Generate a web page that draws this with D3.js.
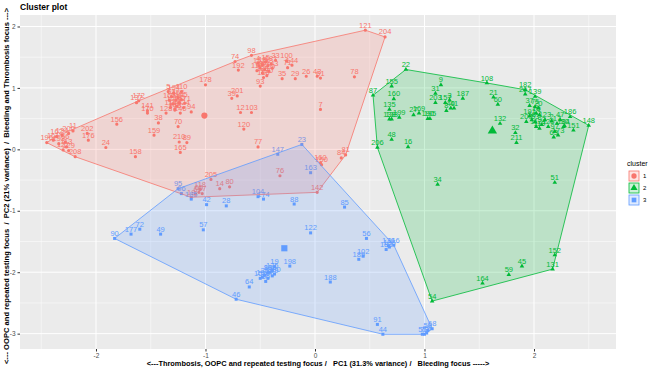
<!DOCTYPE html>
<html>
<head>
<meta charset="utf-8">
<script src="https://cdn.jsdelivr.net/npm/d3@7"></script>
<style>
  body { margin: 0; background: #fff; }
  text { font-family: "Liberation Sans", Arial, sans-serif; }
</style>
</head>
<body>
<div id="chart"></div>
<script>
// Observations per cluster: [label, PC1, PC2]
const cluster1 = [
  ["121", 0.46, 1.94], ["204", 0.64, 1.83], ["98", -0.58, 1.53], ["74", -0.73, 1.43],
  ["192", -0.70, 1.29], ["33", -0.36, 1.45], ["100", -0.26, 1.44], ["144", -0.21, 1.37],
  ["71", -0.25, 1.33], ["35", -0.30, 1.15], ["29", -0.18, 1.15], ["26", -0.08, 1.19],
  ["43", 0.02, 1.19], ["61", 0.05, 1.16], ["93", -0.50, 1.03],
  ["4", -0.52, 1.40], ["13", -0.48, 1.38], ["15", -0.45, 1.42], ["52", -0.43, 1.36],
  ["181", -0.40, 1.39], ["86", -0.50, 1.32], ["99", -0.46, 1.30], ["109", -0.42, 1.27],
  ["117", -0.53, 1.28], ["126", -0.48, 1.24], ["130", -0.44, 1.20], ["143", -0.39, 1.32],
  ["153", -0.51, 1.36], ["166", -0.47, 1.17],
  ["178", -1.00, 1.05], ["39", -0.76, 0.83], ["201", -0.71, 0.87], ["12", -0.68, 0.60],
  ["103", -0.58, 0.60], ["120", -0.65, 0.33], ["77", -0.52, 0.04], ["7", 0.05, 0.65],
  ["78", 0.36, 1.18], ["84", 0.24, -0.14], ["81", 0.28, -0.09], ["160", 0.05, -0.22],
  ["150", 0.06, -0.25], ["142", 0.02, -0.70], ["76", -0.32, -0.43], ["205", -0.95, -0.49],
  ["14", -0.87, -0.64], ["80", -0.78, -0.61], ["18", -1.13, -0.78], ["6", -1.09, -0.73],
  ["65", -1.06, -0.70], ["67", -1.03, -0.72], ["118", -1.05, -0.65],
  ["196", -2.45, 0.11], ["161", -2.39, 0.15], ["162", -2.36, 0.21], ["200", -2.25, 0.26],
  ["11", -2.21, 0.30], ["66", -2.28, 0.12], ["193", -2.34, 0.09], ["113", -2.27, 0.04],
  ["127", -2.30, -0.01], ["129", -2.25, -0.02], ["134", -2.31, 0.23], ["208", -2.19, -0.12],
  ["202", -2.08, 0.26], ["176", -2.07, 0.15], ["24", -1.91, 0.03], ["156", -1.81, 0.41],
  ["158", -1.64, -0.12], ["172", -1.61, 0.79], ["137", -1.63, 0.76], ["141", -1.53, 0.63],
  ["170", -1.53, 0.59], ["38", -1.43, 0.43], ["159", -1.47, 0.23], ["70", -1.25, 0.37],
  ["210", -1.24, 0.12], ["89", -1.17, 0.11], ["165", -1.23, -0.05], ["128", -1.36, 0.59],
  ["5", -1.34, 0.94], ["194", -1.29, 0.92], ["110", -1.22, 0.94], ["145", -1.22, 0.81],
  ["171", -1.19, 0.75], ["94", -1.13, 0.61], ["140", -1.23, 0.59], ["146", -1.28, 0.64],
  ["62", -1.31, 0.86], ["101", -1.27, 0.80], ["107", -1.30, 0.74], ["111", -1.26, 0.70],
  ["114", -1.32, 0.68], ["115", -1.24, 0.76], ["124", -1.20, 0.68], ["149", -1.28, 0.66],
  ["154", -1.25, 0.84], ["167", -1.33, 0.80]
];

const cluster2 = [
  ["22", 0.83, 1.30], ["87", 0.53, 0.88], ["155", 0.70, 1.03], ["160", 0.72, 0.82],
  ["135", 0.68, 0.65], ["138", 0.68, 0.49], ["133", 0.70, 0.49], ["199", 0.77, 0.52],
  ["27", 0.90, 0.56], ["169", 0.95, 0.59], ["190", 1.03, 0.50], ["195", 1.05, 0.50],
  ["48", 0.70, 0.16], ["16", 0.85, 0.04], ["206", 0.57, 0.03], ["31", 1.10, 0.91],
  ["9", 1.15, 1.05], ["203", 1.10, 0.76], ["157", 1.19, 0.76], ["3", 1.23, 0.80],
  ["8", 1.20, 0.63], ["41", 1.27, 0.67], ["40", 1.24, 0.67], ["187", 1.35, 0.83],
  ["108", 1.57, 1.08], ["21", 1.63, 0.85], ["60", 1.67, 0.73], ["132", 1.69, 0.42],
  ["32", 1.83, 0.27], ["211", 1.84, 0.11], ["182", 1.92, 0.97], ["207", 1.92, 0.90],
  ["139", 2.01, 0.86], ["37", 1.96, 0.71], ["75", 2.01, 0.69],
  ["209", 1.93, 0.45], ["191", 1.96, 0.54], ["58", 1.98, 0.48], ["53", 2.01, 0.45],
  ["112", 2.02, 0.37], ["119", 2.05, 0.34], ["92", 2.07, 0.40], ["123", 2.10, 0.48],
  ["125", 2.13, 0.37], ["2", 2.16, 0.46], ["17", 2.21, 0.42], ["47", 2.24, 0.48],
  ["97", 2.19, 0.29], ["63", 2.18, 0.20], ["173", 2.22, 0.23], ["184", 2.27, 0.37],
  ["30", 2.28, 0.38], ["186", 2.33, 0.53], ["151", 2.36, 0.31], ["20", 2.04, 0.67],
  ["10", 2.02, 0.59], ["1", 2.05, 0.56], ["148", 2.50, 0.39],
  ["51", 2.19, -0.54], ["34", 1.12, -0.57], ["152", 2.19, -1.72], ["131", 2.17, -1.95],
  ["45", 1.89, -1.90], ["59", 1.77, -2.04], ["164", 1.53, -2.18], ["54", 1.07, -2.47]
];

const cluster3 = [
  ["23", -0.12, 0.08], ["147", -0.34, -0.08], ["163", -0.04, -0.38], ["85", 0.27, -0.94],
  ["56", 0.47, -1.45], ["183", 0.65, -1.63], ["136", 0.67, -1.57], ["105", 0.68, -1.59],
  ["116", 0.72, -1.56], ["102", 0.44, -1.74], ["189", 0.40, -1.79], ["188", 0.14, -2.16],
  ["91", 0.57, -2.85], ["44", 0.62, -3.01], ["55", 0.98, -3.01], ["73", 1.00, -3.01],
  ["79", 1.02, -2.99], ["68", 1.07, -2.92], ["50", 1.03, -2.95],
  ["90", -1.83, -1.45], ["177", -1.68, -1.38], ["72", -1.60, -1.30], ["49", -1.41, -1.38],
  ["57", -1.02, -1.31], ["95", -1.25, -0.64], ["96", -1.22, -0.72], ["185", -1.13, -0.81],
  ["42", -0.99, -0.90], ["28", -0.81, -0.92], ["104", -0.52, -0.77], ["174", -0.47, -0.81],
  ["88", -0.19, -0.89], ["122", -0.04, -1.36], ["198", -0.23, -1.90], ["19", -0.37, -1.91],
  ["25", -0.46, -2.05], ["106", -0.43, -2.10], ["168", -0.41, -2.00], ["179", -0.39, -2.06],
  ["197", -0.48, -2.08], ["36", -0.45, -2.15], ["175", -0.39, -1.97], ["180", -0.37, -2.03],
  ["83", -0.43, -2.01], ["64", -0.60, -2.24], ["46", -0.72, -2.44], ["157", -0.50, -2.10]
];

// cluster centres
const centers = [[-1.01, 0.55], [1.62, 0.30], [-0.28, -1.61]];
const clusterNames = ["1", "2", "3"];
const xTicks = [-2, -1, 0, 1, 2];
const yTicks = [-3, -2, -1, 0, 1, 2];

const width = 654, height = 370;
const panel = { left: 20, right: 616, top: 15, bottom: 349 };
const colors = ["#F8766D", "#00BA38", "#619CFF"];
const shapes = [d3.symbolCircle, d3.symbolTriangle, d3.symbolSquare];

const svg = d3.select("#chart").append("svg")
  .attr("width", width).attr("height", height);

const x = d3.scaleLinear().domain([-2.694, 2.749]).range([panel.left, panel.right]);
const y = d3.scaleLinear().domain([-3.25, 2.187]).range([panel.bottom, panel.top]);

// panel background + grid
svg.append("rect")
  .attr("x", panel.left).attr("y", panel.top)
  .attr("width", panel.right - panel.left).attr("height", panel.bottom - panel.top)
  .attr("fill", "#EBEBEB");

const minorX = d3.range(-2.5, 2.75, 1), minorY = d3.range(-2.5, 2.1, 1);
svg.append("g").selectAll("line").data(minorX).join("line")
  .attr("x1", d => x(d)).attr("x2", d => x(d))
  .attr("y1", panel.top).attr("y2", panel.bottom)
  .attr("stroke", "#fff").attr("stroke-width", 0.5);
svg.append("g").selectAll("line").data(minorY).join("line")
  .attr("y1", d => y(d)).attr("y2", d => y(d))
  .attr("x1", panel.left).attr("x2", panel.right)
  .attr("stroke", "#fff").attr("stroke-width", 0.5);
svg.append("g").selectAll("line").data(xTicks).join("line")
  .attr("x1", d => x(d)).attr("x2", d => x(d))
  .attr("y1", panel.top).attr("y2", panel.bottom)
  .attr("stroke", "#fff").attr("stroke-width", 1);
svg.append("g").selectAll("line").data(yTicks).join("line")
  .attr("y1", d => y(d)).attr("y2", d => y(d))
  .attr("x1", panel.left).attr("x2", panel.right)
  .attr("stroke", "#fff").attr("stroke-width", 1);

// axes
const xAxis = svg.append("g")
  .attr("transform", `translate(0,${panel.bottom})`)
  .call(d3.axisBottom(x).tickValues(xTicks).tickFormat(d => String(d)).tickSize(2.5).tickPadding(2));
const yAxis = svg.append("g")
  .attr("transform", `translate(${panel.left},0)`)
  .call(d3.axisLeft(y).tickValues(yTicks).tickFormat(d => String(d)).tickSize(2.5).tickPadding(2));
[xAxis, yAxis].forEach(a => {
  a.select(".domain").remove();
  a.selectAll(".tick line").attr("stroke", "#333");
  a.selectAll(".tick text").attr("fill", "#4D4D4D").style("font-size", "6.5px")
    .style("font-family", "Liberation Sans, Arial, sans-serif");
});

const clusters = [cluster1, cluster2, cluster3];

// points and labels
clusters.forEach((pts, i) => {
  const g = svg.append("g");
  g.selectAll("path").data(pts).join("path")
    .attr("transform", d => `translate(${x(d[1])},${y(d[2])})`)
    .attr("d", d3.symbol().type(shapes[i]).size(i === 0 ? 8 : 9))
    .attr("fill", colors[i]);
  g.selectAll("text").data(pts).join("text")
    .attr("x", d => x(d[1])).attr("y", d => y(d[2]) - 2.5)
    .attr("text-anchor", "middle")
    .attr("fill", colors[i])
    .style("font-size", "7.5px")
    .text(d => d[0]);
});

// convex hulls
clusters.forEach((pts, i) => {
  const hull = d3.polygonHull(pts.map(d => [x(d[1]), y(d[2])]));
  svg.append("path")
    .attr("d", "M" + hull.join("L") + "Z")
    .attr("fill", colors[i]).attr("fill-opacity", 0.2)
    .attr("stroke", colors[i]).attr("stroke-width", 0.8);
});

// cluster centres
svg.append("g").selectAll("path").data(centers).join("path")
  .attr("transform", d => `translate(${x(d[0])},${y(d[1])})`)
  .attr("d", (d, i) => d3.symbol().type(shapes[i]).size(i === 0 ? 30 : 38)())
  .attr("fill", (d, i) => colors[i]);

// titles
svg.append("text")
  .attr("x", 20).attr("y", 10)
  .style("font-size", "8.5px").style("font-weight", "bold")
  .text("Cluster plot");

svg.append("text")
  .attr("x", (panel.left + panel.right) / 2).attr("y", 366)
  .attr("text-anchor", "middle")
  .style("font-size", "7.4px").style("font-weight", "bold").style("white-space", "pre")
  .text("<---Thrombosis, OOPC and repeated testing focus /   PC1 (31.3% variance) /   Bleeding focus ----->");

svg.append("text")
  .attr("transform", `translate(9,${(panel.top + panel.bottom) / 2 + 4}) rotate(-90)`)
  .attr("text-anchor", "middle")
  .style("font-size", "7.6px").style("font-weight", "bold").style("white-space", "pre")
  .text("<--- OOPC and repeated testing focus  /  PC2 (21% variance)  /  Bleeding and Thrombosis focus --->");

// legend
const legend = svg.append("g");
legend.append("text")
  .attr("x", 627).attr("y", 166)
  .style("font-size", "7px")
  .text("cluster");
clusterNames.forEach((name, i) => {
  const cy = 176 + i * 12;
  legend.append("rect")
    .attr("x", 629).attr("y", cy - 5).attr("width", 10).attr("height", 10)
    .attr("fill", colors[i]).attr("fill-opacity", 0.2)
    .attr("stroke", colors[i]).attr("stroke-width", 0.8);
  legend.append("path")
    .attr("transform", `translate(634,${cy})`)
    .attr("d", d3.symbol().type(shapes[i]).size(22))
    .attr("fill", colors[i]);
  legend.append("text")
    .attr("x", 643).attr("y", cy + 2.2)
    .style("font-size", "6px")
    .text(name);
});
</script>
</body>
</html>
